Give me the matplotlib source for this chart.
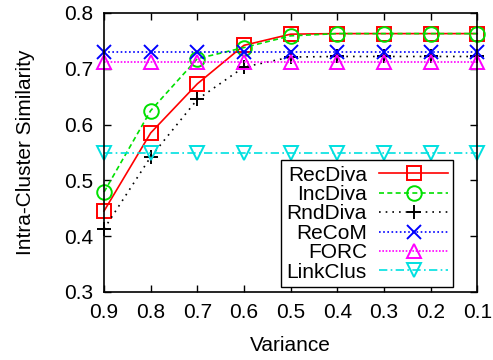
import matplotlib
matplotlib.use('Agg')
import matplotlib.pyplot as plt

plt.rcParams['font.family'] = ['Liberation Sans', 'DejaVu Sans']
plt.rcParams['font.size'] = 15

variance = [0.9, 0.8, 0.7, 0.6, 0.5, 0.4, 0.3, 0.2, 0.1]
rec_diva = [0.445, 0.585, 0.673, 0.742, 0.762, 0.763, 0.763, 0.763, 0.763]
inc_diva = [0.479, 0.625, 0.718, 0.738, 0.759, 0.763, 0.763, 0.763, 0.763]
rnd_diva = [0.413, 0.542, 0.645, 0.703, 0.721, 0.722, 0.722, 0.722, 0.722]
recom = [0.730] * 9
forc = [0.712] * 9
linkclus = [0.549] * 9

series = [
    ('RecDiva', rec_diva, '#ff0000', '-', 's'),
    ('IncDiva', inc_diva, '#00e000', (0, (3, 2)), 'o'),
    ('RndDiva', rnd_diva, 'black', (0, (1, 3)), '+'),
    ('ReCoM', recom, '#0000ff', (0, (1, 1.5)), 'x'),
    ('FORC', forc, '#ff00ff', (0, (1, 1)), '^'),
    ('LinkClus', linkclus, '#00e0e0', (0, (5, 2, 1, 2)), 'v'),
]

fig = plt.figure(figsize=(4.93, 3.6), dpi=100)
ax = fig.add_axes([0.211, 0.189, 0.757, 0.775])

for name, vals, col, ls, mk in series:
    ax.plot(variance, vals, color=col, linestyle=ls, linewidth=1.2,
            marker=mk, markersize=10.5, markerfacecolor='none',
            markeredgecolor=col, markeredgewidth=1.4, label=name, clip_on=False)

ax.set_xlim(0.9, 0.1)
ax.set_ylim(0.3, 0.8)
ax.set_xticks(variance)
ax.set_xticklabels(['%.1f' % v for v in variance])
ax.set_yticks([0.3, 0.4, 0.5, 0.6, 0.7, 0.8])
ax.set_yticklabels(['0.3', '0.4', '0.5', '0.6', '0.7', '0.8'])
ax.tick_params(direction='in', top=True, right=True, length=5, width=1, pad=8)
for s in ax.spines.values():
    s.set_linewidth(1.2)
ax.set_xlabel('Variance', labelpad=10)
ax.set_ylabel('Intra-Cluster Similarity', labelpad=21)

leg = ax.legend(loc='lower right', bbox_to_anchor=(0.936, 0.018), borderaxespad=0,
                markerfirst=False, handlelength=3.3, labelspacing=0.02,
                fancybox=False, framealpha=1, edgecolor='black',
                borderpad=0.25, handletextpad=0.6)
leg.get_frame().set_linewidth(1.0)

fig.savefig('out.png', dpi=100)
